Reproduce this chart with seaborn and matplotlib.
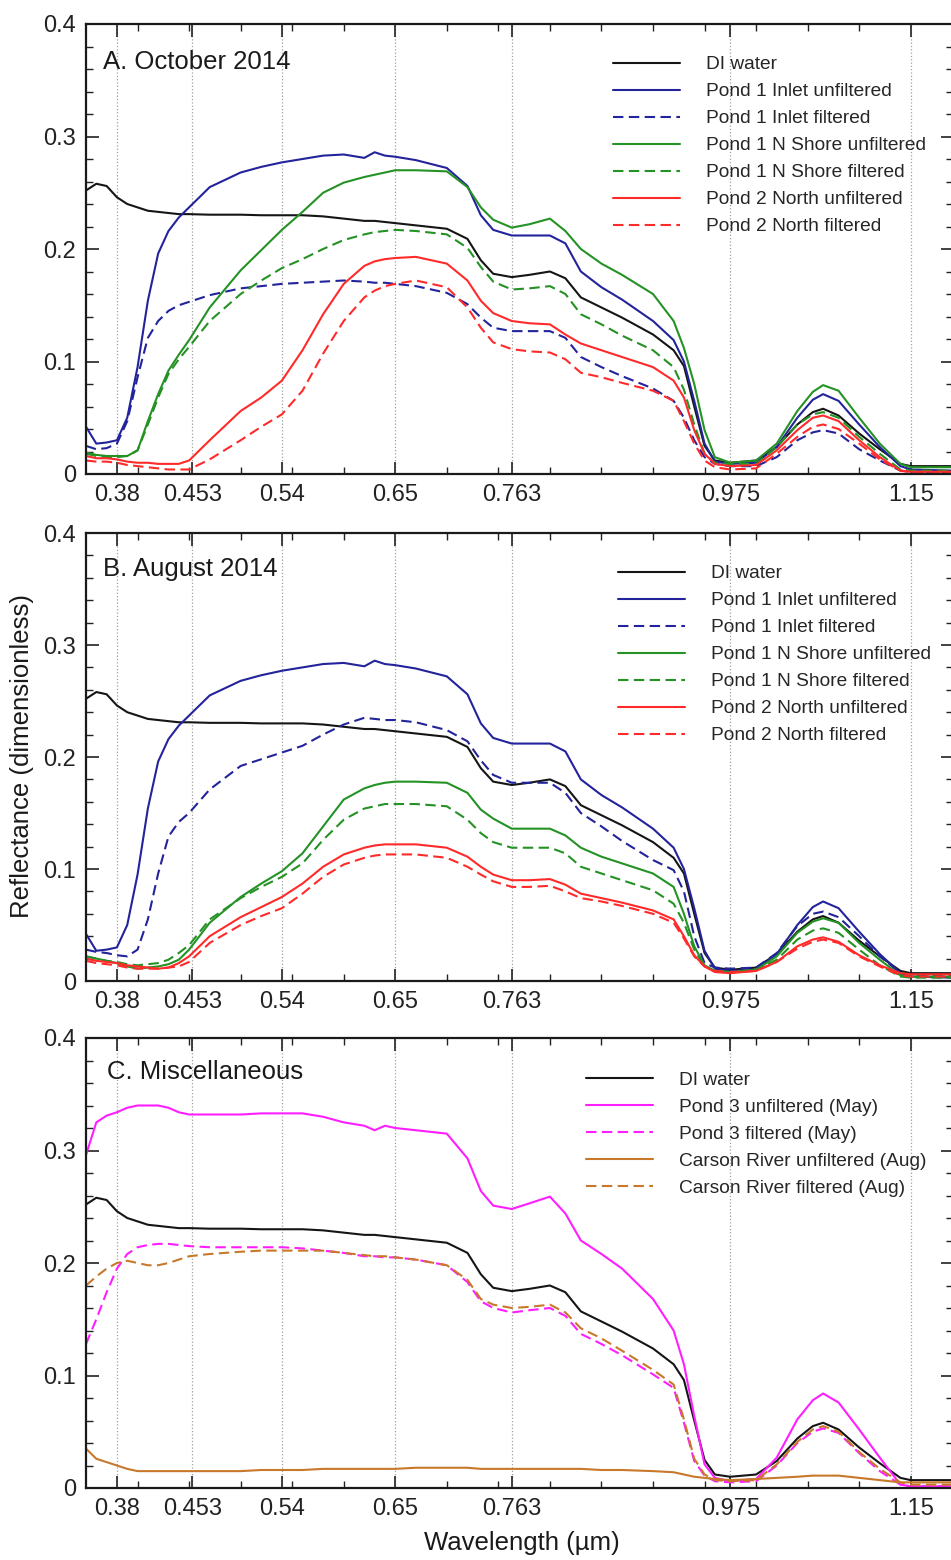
import numpy as np
import pandas as pd
import matplotlib
matplotlib.use("Agg")
import matplotlib.pyplot as plt
from matplotlib.ticker import FixedLocator, FuncFormatter
import seaborn as sns

# ---------------- data ----------------
WL = [0.35, 0.36, 0.37, 0.38, 0.39, 0.40, 0.41, 0.42, 0.43, 0.44,
      0.45, 0.47, 0.50, 0.52, 0.54, 0.56, 0.58, 0.60, 0.62, 0.63,
      0.64, 0.65, 0.67, 0.70, 0.72, 0.733, 0.745, 0.763, 0.78, 0.80,
      0.815, 0.83, 0.85, 0.87, 0.90, 0.92, 0.93, 0.94, 0.95, 0.96,
      0.975, 1.00, 1.02, 1.04, 1.055, 1.065, 1.08, 1.10, 1.12, 1.14,
      1.15, 1.19]

DI_WATER = [0.252, 0.258, 0.256, 0.246, 0.240, 0.237, 0.234, 0.233, 0.232, 0.231,
            0.231, 0.2305, 0.2305, 0.230, 0.230, 0.230, 0.229, 0.227, 0.225, 0.225,
            0.224, 0.223, 0.221, 0.218, 0.209, 0.190, 0.178, 0.175, 0.177, 0.180,
            0.174, 0.157, 0.148, 0.139, 0.124, 0.110, 0.096, 0.060, 0.025, 0.012,
            0.010, 0.012, 0.024, 0.044, 0.055, 0.058, 0.052, 0.036, 0.022, 0.009,
            0.007, 0.007]

# Panel A - October 2014
A_INLET_UNF = [0.042, 0.027, 0.028, 0.030, 0.050, 0.095, 0.154, 0.196, 0.216, 0.228,
               0.237, 0.255, 0.268, 0.273, 0.277, 0.280, 0.283, 0.284, 0.281, 0.286,
               0.283, 0.282, 0.279, 0.272, 0.256, 0.230, 0.217, 0.212, 0.212, 0.212,
               0.205, 0.180, 0.166, 0.155, 0.136, 0.119, 0.100, 0.065, 0.027, 0.011,
               0.009, 0.010, 0.024, 0.050, 0.066, 0.071, 0.065, 0.044, 0.024, 0.007,
               0.004, 0.003]
A_INLET_FIL = [0.025, 0.022, 0.023, 0.027, 0.047, 0.086, 0.121, 0.136, 0.145, 0.150,
               0.153, 0.159, 0.165, 0.167, 0.169, 0.170, 0.171, 0.172, 0.171, 0.170,
               0.170, 0.169, 0.167, 0.161, 0.151, 0.139, 0.130, 0.127, 0.127, 0.127,
               0.121, 0.104, 0.095, 0.087, 0.076, 0.065, 0.050, 0.030, 0.015, 0.009,
               0.007, 0.007, 0.015, 0.030, 0.037, 0.039, 0.036, 0.022, 0.012, 0.003,
               0.002, 0.0015]
A_NSHORE_UNF = [0.019, 0.017, 0.016, 0.016, 0.016, 0.021, 0.047, 0.071, 0.092, 0.106,
                0.119, 0.148, 0.181, 0.199, 0.217, 0.233, 0.250, 0.259, 0.264, 0.266,
                0.268, 0.270, 0.270, 0.269, 0.255, 0.237, 0.226, 0.219, 0.222, 0.227,
                0.216, 0.200, 0.187, 0.177, 0.160, 0.136, 0.112, 0.080, 0.039, 0.015,
                0.010, 0.012, 0.027, 0.056, 0.073, 0.079, 0.074, 0.050, 0.027, 0.009,
                0.006, 0.006]
A_NSHORE_FIL = [0.018, 0.016, 0.015, 0.015, 0.016, 0.021, 0.044, 0.068, 0.089, 0.102,
                0.113, 0.136, 0.160, 0.172, 0.183, 0.191, 0.200, 0.208, 0.213, 0.215,
                0.216, 0.217, 0.216, 0.213, 0.201, 0.184, 0.171, 0.164, 0.165, 0.167,
                0.160, 0.142, 0.133, 0.123, 0.110, 0.095, 0.075, 0.044, 0.018, 0.010,
                0.009, 0.009, 0.024, 0.044, 0.053, 0.055, 0.050, 0.033, 0.018, 0.004,
                0.003, 0.003]
A_NORTH_UNF = [0.016, 0.014, 0.014, 0.013, 0.011, 0.010, 0.010, 0.009, 0.009, 0.009,
               0.012, 0.030, 0.056, 0.068, 0.083, 0.110, 0.142, 0.169, 0.185, 0.189,
               0.191, 0.192, 0.193, 0.187, 0.172, 0.154, 0.143, 0.136, 0.134, 0.133,
               0.124, 0.116, 0.110, 0.104, 0.095, 0.083, 0.068, 0.039, 0.018, 0.009,
               0.007, 0.008, 0.021, 0.039, 0.050, 0.052, 0.047, 0.030, 0.015, 0.003,
               0.002, 0.002]
A_NORTH_FIL = [0.012, 0.011, 0.011, 0.010, 0.008, 0.007, 0.006, 0.005, 0.004, 0.004,
               0.004, 0.013, 0.030, 0.042, 0.053, 0.074, 0.107, 0.136, 0.157, 0.163,
               0.167, 0.169, 0.172, 0.166, 0.148, 0.130, 0.117, 0.111, 0.109, 0.108,
               0.102, 0.090, 0.086, 0.081, 0.074, 0.065, 0.047, 0.027, 0.012, 0.006,
               0.004, 0.005, 0.018, 0.033, 0.042, 0.044, 0.040, 0.027, 0.013, 0.003,
               0.0015, 0.0015]

# Panel B - August 2014
B_INLET_UNF = A_INLET_UNF
B_INLET_FIL = [0.028, 0.026, 0.025, 0.023, 0.022, 0.028, 0.055, 0.096, 0.129, 0.142,
               0.150, 0.171, 0.192, 0.198, 0.204, 0.210, 0.220, 0.229, 0.235, 0.234,
               0.233, 0.233, 0.231, 0.224, 0.214, 0.197, 0.184, 0.177, 0.177, 0.177,
               0.168, 0.150, 0.138, 0.125, 0.108, 0.099, 0.080, 0.040, 0.016, 0.012,
               0.011, 0.012, 0.025, 0.049, 0.060, 0.062, 0.057, 0.040, 0.022, 0.007,
               0.005, 0.005]
B_NSHORE_UNF = [0.022, 0.020, 0.018, 0.016, 0.013, 0.011, 0.012, 0.013, 0.015, 0.019,
                0.028, 0.052, 0.075, 0.087, 0.098, 0.114, 0.138, 0.162, 0.172, 0.175,
                0.177, 0.178, 0.178, 0.177, 0.168, 0.153, 0.145, 0.136, 0.136, 0.136,
                0.130, 0.119, 0.111, 0.105, 0.096, 0.084, 0.060, 0.031, 0.014, 0.009,
                0.008, 0.010, 0.022, 0.043, 0.053, 0.056, 0.052, 0.034, 0.019, 0.005,
                0.004, 0.004]
B_NSHORE_FIL = [0.022, 0.020, 0.018, 0.017, 0.015, 0.014, 0.015, 0.016, 0.019, 0.025,
                0.032, 0.055, 0.074, 0.084, 0.093, 0.105, 0.126, 0.144, 0.154, 0.156,
                0.158, 0.158, 0.158, 0.156, 0.144, 0.132, 0.124, 0.119, 0.119, 0.119,
                0.114, 0.102, 0.096, 0.090, 0.081, 0.069, 0.052, 0.028, 0.013, 0.009,
                0.008, 0.010, 0.019, 0.037, 0.045, 0.047, 0.043, 0.028, 0.014, 0.004,
                0.003, 0.003]
B_NORTH_UNF = [0.020, 0.018, 0.017, 0.016, 0.014, 0.013, 0.012, 0.011, 0.012, 0.016,
               0.022, 0.040, 0.057, 0.066, 0.075, 0.087, 0.102, 0.113, 0.119, 0.121,
               0.122, 0.122, 0.122, 0.119, 0.111, 0.102, 0.095, 0.090, 0.090, 0.091,
               0.086, 0.078, 0.074, 0.070, 0.063, 0.055, 0.040, 0.023, 0.013, 0.008,
               0.007, 0.009, 0.017, 0.031, 0.037, 0.039, 0.035, 0.023, 0.014, 0.007,
               0.006, 0.006]
B_NORTH_FIL = [0.018, 0.016, 0.015, 0.014, 0.012, 0.011, 0.011, 0.011, 0.012, 0.013,
               0.017, 0.034, 0.050, 0.058, 0.065, 0.078, 0.093, 0.104, 0.110, 0.112,
               0.113, 0.113, 0.113, 0.110, 0.102, 0.095, 0.089, 0.084, 0.084, 0.085,
               0.080, 0.074, 0.071, 0.067, 0.060, 0.052, 0.038, 0.022, 0.013, 0.009,
               0.008, 0.009, 0.017, 0.029, 0.035, 0.037, 0.034, 0.022, 0.013, 0.005,
               0.004, 0.004]

# Panel C - Miscellaneous
C_POND3_UNF = [0.296, 0.325, 0.331, 0.334, 0.338, 0.340, 0.340, 0.340, 0.338, 0.334,
               0.332, 0.332, 0.332, 0.333, 0.333, 0.333, 0.330, 0.325, 0.322, 0.318,
               0.322, 0.320, 0.318, 0.315, 0.293, 0.264, 0.251, 0.248, 0.253, 0.259,
               0.244, 0.220, 0.208, 0.195, 0.168, 0.140, 0.110, 0.064, 0.021, 0.009,
               0.006, 0.008, 0.027, 0.061, 0.078, 0.084, 0.076, 0.052, 0.027, 0.003,
               0.0015, 0.0015]
C_POND3_FIL = [0.128, 0.150, 0.174, 0.195, 0.208, 0.214, 0.216, 0.217, 0.217, 0.216,
               0.215, 0.214, 0.214, 0.214, 0.214, 0.213, 0.211, 0.209, 0.206, 0.206,
               0.205, 0.205, 0.203, 0.198, 0.183, 0.166, 0.160, 0.156, 0.158, 0.160,
               0.153, 0.137, 0.128, 0.118, 0.101, 0.089, 0.058, 0.024, 0.011, 0.006,
               0.005, 0.006, 0.020, 0.040, 0.050, 0.053, 0.049, 0.031, 0.015, 0.003,
               0.0015, 0.0015]
C_CARSON_UNF = [0.035, 0.026, 0.023, 0.020, 0.017, 0.015, 0.015, 0.015, 0.015, 0.015,
                0.015, 0.015, 0.015, 0.016, 0.016, 0.016, 0.017, 0.017, 0.017, 0.017,
                0.017, 0.017, 0.018, 0.018, 0.018, 0.017, 0.017, 0.017, 0.017, 0.017,
                0.017, 0.017, 0.016, 0.016, 0.015, 0.014, 0.012, 0.010, 0.009, 0.008,
                0.007, 0.008, 0.009, 0.010, 0.011, 0.011, 0.011, 0.009, 0.007, 0.005,
                0.005, 0.005]
C_CARSON_FIL = [0.180, 0.188, 0.195, 0.200, 0.202, 0.200, 0.198, 0.198, 0.200, 0.203,
                0.206, 0.208, 0.210, 0.211, 0.211, 0.211, 0.211, 0.209, 0.207, 0.206,
                0.206, 0.205, 0.203, 0.198, 0.185, 0.168, 0.163, 0.160, 0.161, 0.163,
                0.156, 0.142, 0.133, 0.122, 0.105, 0.092, 0.061, 0.026, 0.012, 0.007,
                0.006, 0.007, 0.021, 0.041, 0.052, 0.055, 0.050, 0.032, 0.017, 0.005,
                0.003, 0.003]

PANEL_TITLES = ["A. October 2014", "B. August 2014", "C. Miscellaneous"]
X_TICKS = [0.38, 0.453, 0.54, 0.65, 0.763, 0.975, 1.15]
X_TICK_LABELS = ["0.38", "0.453", "0.54", "0.65", "0.763", "0.975", "1.15"]
Y_TICKS = [0.0, 0.1, 0.2, 0.3, 0.4]

BLACK, BLUE, GREEN, RED = "#151515", "#23239b", "#249224", "#ff2a2a"
MAGENTA, BROWN = "#ff1eff", "#c8782a"
SOLID, DASH = "-", (0, (5, 2.6))

panels = [
    [("DI water", DI_WATER, BLACK, SOLID),
     ("Pond 1 Inlet unfiltered", A_INLET_UNF, BLUE, SOLID),
     ("Pond 1 Inlet filtered", A_INLET_FIL, BLUE, DASH),
     ("Pond 1 N Shore unfiltered", A_NSHORE_UNF, GREEN, SOLID),
     ("Pond 1 N Shore filtered", A_NSHORE_FIL, GREEN, DASH),
     ("Pond 2 North unfiltered", A_NORTH_UNF, RED, SOLID),
     ("Pond 2 North filtered", A_NORTH_FIL, RED, DASH)],
    [("DI water", DI_WATER, BLACK, SOLID),
     ("Pond 1 Inlet unfiltered", B_INLET_UNF, BLUE, SOLID),
     ("Pond 1 Inlet filtered", B_INLET_FIL, BLUE, DASH),
     ("Pond 1 N Shore unfiltered", B_NSHORE_UNF, GREEN, SOLID),
     ("Pond 1 N Shore filtered", B_NSHORE_FIL, GREEN, DASH),
     ("Pond 2 North unfiltered", B_NORTH_UNF, RED, SOLID),
     ("Pond 2 North filtered", B_NORTH_FIL, RED, DASH)],
    [("DI water", DI_WATER, BLACK, SOLID),
     ("Pond 3 unfiltered (May)", C_POND3_UNF, MAGENTA, SOLID),
     ("Pond 3 filtered (May)", C_POND3_FIL, MAGENTA, DASH),
     ("Carson River unfiltered (Aug)", C_CARSON_UNF, BROWN, SOLID),
     ("Carson River filtered (Aug)", C_CARSON_FIL, BROWN, DASH)],
]

# ---------------- layout ----------------
sns.set_theme(style="ticks")
plt.rcParams["font.family"] = ["Liberation Sans", "DejaVu Sans"]
plt.rcParams["axes.linewidth"] = 1.5

W, H = 951, 1560
fig = plt.figure(figsize=(W / 100, H / 100), dpi=100)

# (top px, bottom px) of each panel
panel_px = [(24, 474), (533, 981), (1038, 1488)]
left_px, right_px = 86, 953
legend_anchor = [(0.608, 0.929), (0.614, 0.929), (0.577, 0.925)]
title_pos = [(0.020, 0.916), (0.020, 0.920), (0.024, 0.925)]

for i, (series, (top, bot)) in enumerate(zip(panels, panel_px)):
    ax = fig.add_axes([left_px / W, 1 - bot / H, (right_px - left_px) / W, (bot - top) / H])
    for name, vals, col, ls in series:
        sns.lineplot(x=WL, y=vals, ax=ax, color=col, linestyle=ls,
                     linewidth=1.5, label=name, estimator=None)
    ax.set_xlim(0.35, 1.191)
    ax.set_ylim(0, 0.4)
    ax.xaxis.set_major_locator(FixedLocator(X_TICKS))
    ax.set_xticklabels(X_TICK_LABELS)
    ax.xaxis.set_minor_locator(FixedLocator(list(np.arange(0.40, 1.19, 0.05))))
    ax.yaxis.set_major_locator(FixedLocator(Y_TICKS))
    ax.yaxis.set_minor_locator(FixedLocator(list(np.arange(0.0, 0.401, 0.02))))
    ax.yaxis.set_major_formatter(FuncFormatter(lambda v, p: "0" if abs(v) < 1e-9 else f"{v:.1f}"))
    ax.tick_params(which="major", direction="in", top=True, right=True,
                   length=9, width=1.2, labelsize=17, pad=7, colors="#222222")
    ax.tick_params(which="minor", direction="in", top=True, right=True,
                   length=5, width=1.0, colors="#222222")
    ax.grid(axis="x", which="major", linestyle=":", color="#a0a0a0", linewidth=0.9)
    ax.set_axisbelow(True)
    for sp in ax.spines.values():
        sp.set_color("#1a1a1a")
        sp.set_linewidth(1.6)
    ax.set_xlabel("")
    ax.set_ylabel("")
    ax.text(title_pos[i][0], title_pos[i][1], PANEL_TITLES[i], transform=ax.transAxes,
            ha="left", va="center", fontsize=18.5, color="#1a1a1a")
    ax.legend(loc="upper left", bbox_to_anchor=legend_anchor[i], frameon=False,
              fontsize=13.8, handlelength=3.5, handletextpad=1.35,
              labelspacing=0.5, borderpad=0, borderaxespad=0)

fig.text(22 / W, 1 - 756 / H, "Reflectance (dimensionless)", rotation=90,
         ha="center", va="center", fontsize=18.5, color="#1a1a1a")
fig.text(522 / W, 1 - 1543 / H, "Wavelength (\u00b5m)", ha="center", va="center",
         fontsize=18.5, color="#1a1a1a")

fig.savefig("out.png", dpi=100)
